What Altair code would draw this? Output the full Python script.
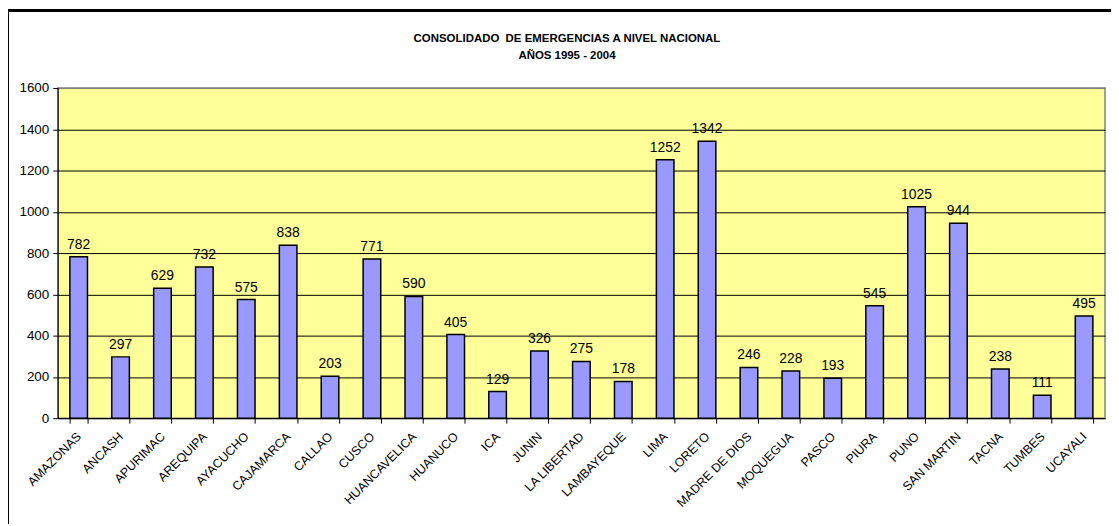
import altair as alt
import pandas as pd

regions = ["AMAZONAS", "ANCASH", "APURIMAC", "AREQUIPA", "AYACUCHO", "CAJAMARCA",
           "CALLAO", "CUSCO", "HUANCAVELICA", "HUANUCO", "ICA", "JUNIN",
           "LA LIBERTAD", "LAMBAYEQUE", "LIMA", "LORETO", "MADRE DE DIOS",
           "MOQUEGUA", "PASCO", "PIURA", "PUNO", "SAN MARTIN", "TACNA",
           "TUMBES", "UCAYALI"]
values = [782, 297, 629, 732, 575, 838, 203, 771, 590, 405, 129, 326, 275, 178,
          1252, 1342, 246, 228, 193, 545, 1025, 944, 238, 111, 495]
y_ticks = [0, 200, 400, 600, 800, 1000, 1200, 1400, 1600]
title_lines = ["CONSOLIDADO\u00a0 DE EMERGENCIAS A NIVEL NACIONAL", "AÑOS 1995 - 2004"]

df = pd.DataFrame({"region": regions, "value": values})

W, H = 1053, 332
SANS = "Liberation Sans, Arial, sans-serif"

x = alt.X("region:N", sort=regions, title=None,
          scale=alt.Scale(paddingInner=0.58, paddingOuter=0.29),
          axis=alt.Axis(labelAngle=-45, labelFont=SANS, labelFontSize=12.5,
                        labelColor="#000", domainColor="#000", tickColor="#000",
                        tickSize=5, tickBand="extent", labelPadding=11,
                        labelBaseline="middle"))
y = alt.Y("value:Q", title=None,
          scale=alt.Scale(domain=[0, 1600], nice=False),
          axis=alt.Axis(values=y_ticks, format="d", labelFont=SANS, labelFontSize=13.5,
                        labelColor="#000", domainColor="#000", tickColor="#000",
                        tickSize=5, labelPadding=4,
                        gridColor=alt.condition(alt.datum.value == 1600,
                                                alt.value("#808080"),
                                                alt.value("#000000"))))

bars = alt.Chart(df).mark_bar(color="#9999FF", stroke="#000", strokeWidth=1.5).encode(
    x=x, y=y)

labels = alt.Chart(df).mark_text(baseline="bottom", dy=-5, font=SANS,
                                 fontSize=14, color="#000").encode(
    x=alt.X("region:N", sort=regions), y="value:Q", text="value:Q")

frame = alt.Chart(df).mark_rect(fill=None, stroke="#000", strokeWidth=1.5).encode(
    x=alt.value(-50), x2=alt.value(W + 60),
    y=alt.value(-78), y2=alt.value(H + 120))

t1 = alt.Chart(pd.DataFrame({"t": [title_lines[0]]})).mark_text(
    font=SANS, fontSize=11.5, fontWeight="bold", color="#000", baseline="middle",
    align="center").encode(x=alt.value(512), y=alt.value(-49), text="t:N")
t2 = alt.Chart(pd.DataFrame({"t": [title_lines[1]]})).mark_text(
    font=SANS, fontSize=11.5, fontWeight="bold", color="#000", baseline="middle",
    align="center").encode(x=alt.value(512), y=alt.value(-32), text="t:N")

chart = alt.layer(bars, labels, frame, t1, t2).properties(
    width=W, height=H,
    autosize=alt.AutoSizeParams(type="none"),
    padding={"left": 50, "top": 79, "right": 6, "bottom": 105},
    background="#FFFFFF",
).configure_view(fill="#FFFF99", stroke="#808080", strokeWidth=1.5)

chart.save("out.html", embed_options={"renderer": "svg", "actions": False})
